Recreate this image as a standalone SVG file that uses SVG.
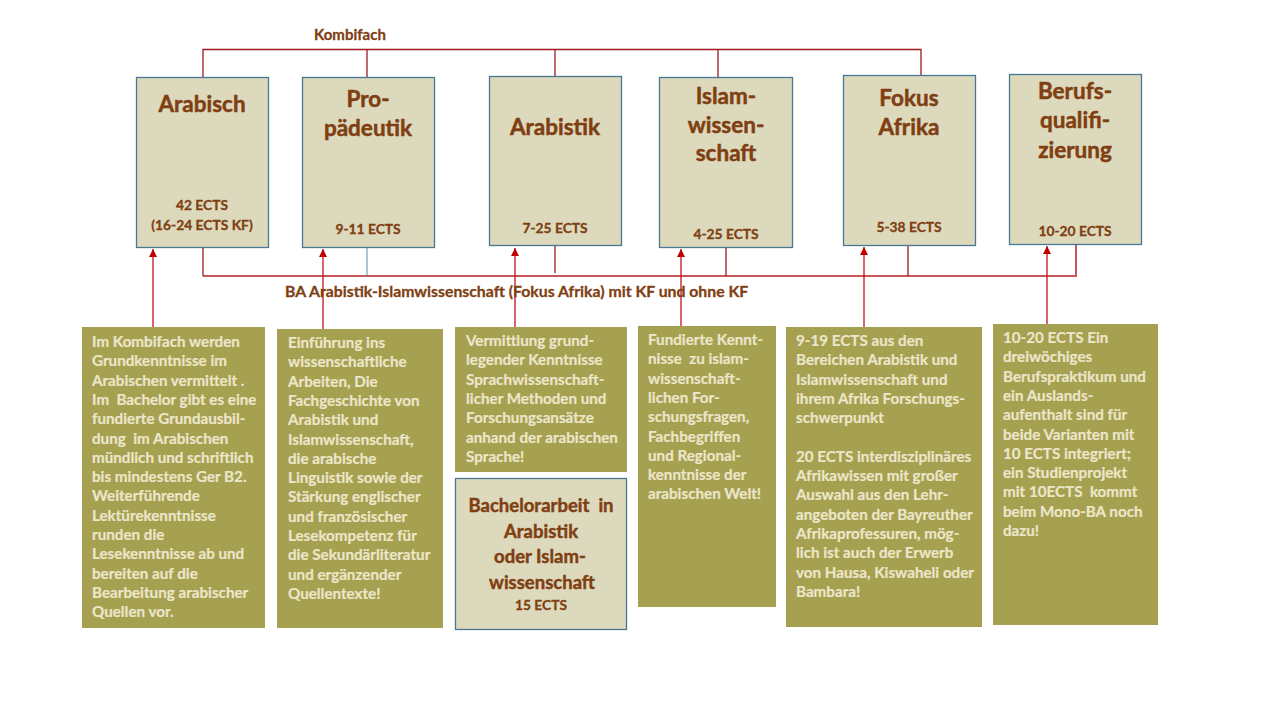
<svg xmlns="http://www.w3.org/2000/svg" width="1280" height="720" viewBox="0 0 1280 720">
<defs>
<marker id="ah" viewBox="0 0 10 10" refX="10" refY="5" markerWidth="8" markerHeight="8" markerUnits="userSpaceOnUse" orient="auto">
<path d="M0,0 L10,5 L0,10 z" fill="#C00000"/>
</marker>
<style>
text{font-family:Lato,"Open Sans","Liberation Sans",sans-serif;font-weight:bold}
.top{fill:#DDD9BD;stroke:#4A7894;stroke-width:1.3}
.desc{fill:#A6A051}
.t{fill:#7F3F12;font-size:22.5px;text-anchor:middle;stroke:#7F3F12;stroke-width:0.5}
.b{fill:#7F3F12;font-size:18.5px;text-anchor:middle;stroke:#7F3F12;stroke-width:0.45}
.e{fill:#7F3F12;font-size:13.8px;text-anchor:middle;stroke:#7F3F12;stroke-width:0.3}
.d{fill:#ECE6CA;font-size:15.2px;stroke:#ECE6CA;stroke-width:0.2}
.bus1{stroke:#9E1A22;stroke-width:1.3;fill:none}
.bus2{stroke:#C9575A;stroke-width:2;fill:none}
.arr{stroke:#C0141C;stroke-width:1.3;fill:none;marker-end:url(#ah)}
.lbl{fill:#7F3F12;stroke:#7F3F12;stroke-width:0.3}
</style>
</defs>
<rect width="1280" height="720" fill="#FFFFFF"/>

<g id="connectors">
<path class="bus1" d="M203,77 V49.5 H921 V75 M367,49.5 V77 M555,49.5 V76 M718,49.5 V77"/>
<path class="bus2" d="M203,276 H1076 V245"/>
<path class="bus1" d="M203,247 V276 M555,245 V273 M726,247 V276 M908,245 V276"/>
<path d="M367,247 V276" stroke="#5B8DB8" stroke-width="1" fill="none"/>
<line class="arr" x1="153" y1="327" x2="153" y2="249"/>
<line class="arr" x1="323" y1="329" x2="323" y2="249"/>
<line class="arr" x1="515" y1="327" x2="515" y2="248"/>
<line class="arr" x1="681" y1="326" x2="681" y2="249"/>
<line class="arr" x1="864" y1="327" x2="864" y2="247"/>
<line class="arr" x1="1047" y1="324" x2="1047" y2="246"/>
<text class="lbl" x="314" y="40" font-size="15px">Kombifach</text>
<text class="lbl" x="285" y="297" font-size="15.8px">BA Arabistik-Islamwissenschaft (Fokus Afrika) mit KF und ohne KF</text>
</g>

<g id="arabisch">
<rect class="top" x="136.5" y="77.5" width="132" height="170"/>
<text class="t" x="202" y="112">Arabisch</text>
<text class="e" x="202" y="210">42 ECTS</text>
<text class="e" x="202" y="230">(16-24 ECTS KF)</text>
</g>
<g id="propaedeutik">
<rect class="top" x="302.5" y="77.5" width="132" height="170"/>
<text class="t" x="368" y="107">Pro-</text>
<text class="t" x="368" y="136">pädeutik</text>
<text class="e" x="368" y="234">9-11 ECTS</text>
</g>
<g id="arabistik">
<rect class="top" x="489.5" y="76.5" width="132" height="169"/>
<text class="t" x="555" y="135">Arabistik</text>
<text class="e" x="555" y="233">7-25 ECTS</text>
</g>
<g id="islamwissenschaft">
<rect class="top" x="659.5" y="77.5" width="133" height="170"/>
<text class="t" x="726" y="104">Islam-</text>
<text class="t" x="726" y="133">wissen-</text>
<text class="t" x="726" y="161">schaft</text>
<text class="e" x="726" y="239">4-25 ECTS</text>
</g>
<g id="fokus-afrika">
<rect class="top" x="843.5" y="75.5" width="132" height="170"/>
<text class="t" x="909" y="106">Fokus</text>
<text class="t" x="909" y="135">Afrika</text>
<text class="e" x="909" y="232">5-38 ECTS</text>
</g>
<g id="berufsqualifizierung">
<rect class="top" x="1009.5" y="74.5" width="132" height="170"/>
<text class="t" x="1075" y="99">Berufs-</text>
<text class="t" x="1075" y="128">qualifi-</text>
<text class="t" x="1075" y="158">zierung</text>
<text class="e" x="1075" y="236">10-20 ECTS</text>
</g>

<g id="desc-arabisch">
<rect class="desc" x="82" y="327" width="183" height="301"/>
<text class="d" x="92" y="347">Im Kombifach werden</text>
<text class="d" x="92" y="366.3">Grundkenntnisse im</text>
<text class="d" x="92" y="385.6">Arabischen vermittelt .</text>
<text class="d" x="92" y="404.9" xml:space="preserve">Im  Bachelor gibt es eine</text>
<text class="d" x="92" y="424.2">fundierte Grundausbil-</text>
<text class="d" x="92" y="443.5" xml:space="preserve">dung  im Arabischen</text>
<text class="d" x="92" y="462.8">mündlich und schriftlich</text>
<text class="d" x="92" y="482.1">bis mindestens Ger B2.</text>
<text class="d" x="92" y="501.4">Weiterführende</text>
<text class="d" x="92" y="520.7">Lektürekenntnisse</text>
<text class="d" x="92" y="540">runden die</text>
<text class="d" x="92" y="559.3">Lesekenntnisse ab und</text>
<text class="d" x="92" y="578.6">bereiten auf die</text>
<text class="d" x="92" y="597.9">Bearbeitung arabischer</text>
<text class="d" x="92" y="617.2">Quellen vor.</text>
</g>
<g id="desc-propaedeutik">
<rect class="desc" x="277" y="329" width="166" height="299"/>
<text class="d" x="288" y="348">Einführung ins</text>
<text class="d" x="288" y="367.3">wissenschaftliche</text>
<text class="d" x="288" y="386.6">Arbeiten, Die</text>
<text class="d" x="288" y="405.9">Fachgeschichte von</text>
<text class="d" x="288" y="425.2">Arabistik und</text>
<text class="d" x="288" y="444.5">Islamwissenschaft,</text>
<text class="d" x="288" y="463.8">die arabische</text>
<text class="d" x="288" y="483.1">Linguistik sowie der</text>
<text class="d" x="288" y="502.4">Stärkung englischer</text>
<text class="d" x="288" y="521.7">und französischer</text>
<text class="d" x="288" y="541">Lesekompetenz für</text>
<text class="d" x="288" y="560.3">die Sekundärliteratur</text>
<text class="d" x="288" y="579.6">und ergänzender</text>
<text class="d" x="288" y="598.9">Quellentexte!</text>
</g>
<g id="desc-arabistik">
<rect class="desc" x="455" y="327" width="172" height="145"/>
<text class="d" x="466" y="346">Vermittlung grund-</text>
<text class="d" x="466" y="365.3">legender Kenntnisse</text>
<text class="d" x="466" y="384.6">Sprachwissenschaft-</text>
<text class="d" x="466" y="403.9">licher Methoden und</text>
<text class="d" x="466" y="423.2">Forschungsansätze</text>
<text class="d" x="466" y="442.5">anhand der arabischen</text>
<text class="d" x="466" y="461.8">Sprache!</text>
</g>
<g id="bachelorarbeit">
<rect class="top" x="455.5" y="478.5" width="171" height="151"/>
<text class="b" x="541" y="512" xml:space="preserve">Bachelorarbeit  in</text>
<text class="b" x="541" y="538">Arabistik</text>
<text class="b" x="540" y="563">oder Islam-</text>
<text class="b" x="542" y="589">wissenschaft</text>
<text class="e" x="541" y="610">15 ECTS</text>
</g>
<g id="desc-islamwissenschaft">
<rect class="desc" x="638" y="326" width="138" height="281"/>
<text class="d" x="648" y="345">Fundierte Kennt-</text>
<text class="d" x="648" y="364.3" xml:space="preserve">nisse  zu islam-</text>
<text class="d" x="648" y="383.6">wissenschaft-</text>
<text class="d" x="648" y="402.9">lichen For-</text>
<text class="d" x="648" y="422.2">schungsfragen,</text>
<text class="d" x="648" y="441.5">Fachbegriffen</text>
<text class="d" x="648" y="460.8">und Regional-</text>
<text class="d" x="648" y="480.1">kenntnisse der</text>
<text class="d" x="648" y="499.4">arabischen Welt!</text>
</g>
<g id="desc-fokus-afrika">
<rect class="desc" x="786" y="327" width="196" height="300"/>
<text class="d" x="796" y="346">9-19 ECTS aus den</text>
<text class="d" x="796" y="365.3">Bereichen Arabistik und</text>
<text class="d" x="796" y="384.6">Islamwissenschaft und</text>
<text class="d" x="796" y="403.9">ihrem Afrika Forschungs-</text>
<text class="d" x="796" y="423.2">schwerpunkt</text>
<text class="d" x="796" y="461.8">20 ECTS interdisziplinäres</text>
<text class="d" x="796" y="481.1">Afrikawissen mit großer</text>
<text class="d" x="796" y="500.4">Auswahl aus den Lehr-</text>
<text class="d" x="796" y="519.7">angeboten der Bayreuther</text>
<text class="d" x="796" y="539">Afrikaprofessuren, mög-</text>
<text class="d" x="796" y="558.3">lich ist auch der Erwerb</text>
<text class="d" x="796" y="577.6">von Hausa, Kiswaheli oder</text>
<text class="d" x="796" y="596.9">Bambara!</text>
</g>
<g id="desc-berufsqualifizierung">
<rect class="desc" x="993" y="324" width="165" height="301"/>
<text class="d" x="1003" y="343">10-20 ECTS Ein</text>
<text class="d" x="1003" y="362.3">dreiwöchiges</text>
<text class="d" x="1003" y="381.6">Berufspraktikum und</text>
<text class="d" x="1003" y="400.9">ein Auslands-</text>
<text class="d" x="1003" y="420.2">aufenthalt sind für</text>
<text class="d" x="1003" y="439.5">beide Varianten mit</text>
<text class="d" x="1003" y="458.8">10 ECTS integriert;</text>
<text class="d" x="1003" y="478.1">ein Studienprojekt</text>
<text class="d" x="1003" y="497.4" xml:space="preserve">mit 10ECTS  kommt</text>
<text class="d" x="1003" y="516.7">beim Mono-BA noch</text>
<text class="d" x="1003" y="536">dazu!</text>
</g>
</svg>
